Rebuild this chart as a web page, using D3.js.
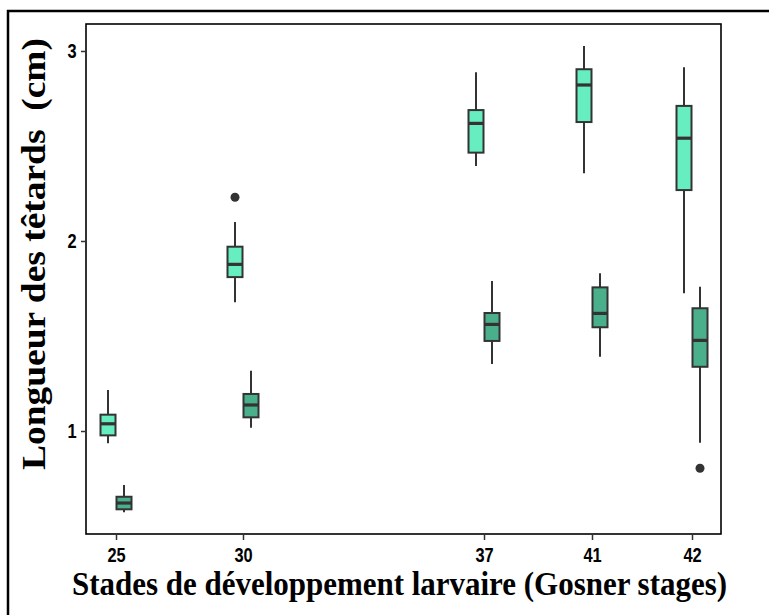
<!DOCTYPE html>
<html>
<head>
<meta charset="utf-8">
<script src="https://cdn.jsdelivr.net/npm/d3@7/dist/d3.min.js"></script>
<style>
  html, body { margin: 0; padding: 0; background: #fff; }
  svg { display: block; }
</style>
</head>
<body>
<svg id="chart" width="769" height="615"></svg>
<script>
// Gosner stages on the x axis
const stages = [25, 30, 37, 41, 42];

// Box statistics per stage: [lower whisker, Q1, median, Q3, upper whisker]
const seriesA = [
  [0.935, 0.977, 1.038, 1.086, 1.216],
  [1.677, 1.810, 1.877, 1.970, 2.100],
  [2.395, 2.465, 2.619, 2.689, 2.888],
  [2.356, 2.626, 2.821, 2.904, 3.026],
  [1.725, 2.268, 2.541, 2.711, 2.914]
];
const seriesB = [
  [0.572, 0.588, 0.621, 0.654, 0.716],
  [1.017, 1.072, 1.137, 1.195, 1.317],
  [1.353, 1.474, 1.561, 1.621, 1.789],
  [1.391, 1.546, 1.619, 1.756, 1.830],
  [0.938, 1.338, 1.477, 1.646, 1.759]
];

// Outlying points per stage
const outliersA = [[], [2.23], [], [], []];
const outliersB = [[], [], [], [], [0.804]];

const yTicks = [1, 2, 3];

const fillA = "#66EEC0";
const fillB = "#4AB08C";
const ink = "#333333";

const svg = d3.select("#chart");

// Outer frame (runs off the right and bottom edges)
svg.append("rect")
  .attr("x", 8).attr("y", 11)
  .attr("width", 800).attr("height", 640)
  .attr("fill", "none").attr("stroke", "#000").attr("stroke-width", 2.5);

const panel = { left: 86, top: 24, right: 721, bottom: 534 };

const x = d3.scaleLinear()
  .domain(stages)
  .range([116, 243, 484, 592, 692]);

const y = d3.scaleLinear()
  .domain([0.458, 3.142])
  .range([panel.bottom, panel.top]);

const dodge = 8;
const boxW = 15;

// Panel border
svg.append("rect")
  .attr("x", panel.left).attr("y", panel.top)
  .attr("width", panel.right - panel.left)
  .attr("height", panel.bottom - panel.top)
  .attr("fill", "none").attr("stroke", "#000").attr("stroke-width", 1.6);

// Axes
const xAxis = d3.axisBottom(x).tickValues(stages).tickSize(6).tickPadding(5).tickFormat(d3.format("d"));
const yAxis = d3.axisLeft(y).tickValues(yTicks).tickSize(5).tickPadding(4).tickFormat(d3.format("d"));

const gx = svg.append("g").attr("transform", `translate(0,${panel.bottom})`).call(xAxis);
const gy = svg.append("g").attr("transform", `translate(${panel.left},0)`).call(yAxis);

[gx, gy].forEach(g => {
  g.select(".domain").remove();
  g.selectAll(".tick line").attr("stroke", ink).attr("stroke-width", 1.5);
  g.selectAll(".tick text")
    .attr("fill", "#000")
    .style("font-family", "'Liberation Sans', Arial, sans-serif")
    .style("font-weight", "bold")
    .style("font-size", "20px");
});
// narrow, tall tick digits
gx.selectAll(".tick text").attr("dy", "0.85em").attr("transform", "scale(0.82,1)");
gy.selectAll(".tick text").attr("x", -11.5).attr("transform", "scale(0.82,1)");

// Boxplots
function drawSeries(stats, outliers, fill, offset) {
  const g = svg.append("g");
  stats.forEach((s, i) => {
    const cx = x(stages[i]) + offset;
    const [lo, q1, med, q3, hi] = s;
    // whiskers
    g.append("line")
      .attr("x1", cx).attr("x2", cx)
      .attr("y1", y(q3)).attr("y2", y(hi))
      .attr("stroke", ink).attr("stroke-width", 2);
    g.append("line")
      .attr("x1", cx).attr("x2", cx)
      .attr("y1", y(q1)).attr("y2", y(lo))
      .attr("stroke", ink).attr("stroke-width", 2);
    // box
    g.append("rect")
      .attr("x", cx - boxW / 2).attr("width", boxW)
      .attr("y", y(q3)).attr("height", y(q1) - y(q3))
      .attr("fill", fill).attr("stroke", ink).attr("stroke-width", 2);
    // median
    g.append("line")
      .attr("x1", cx - boxW / 2).attr("x2", cx + boxW / 2)
      .attr("y1", y(med)).attr("y2", y(med))
      .attr("stroke", ink).attr("stroke-width", 3.2);
    // outliers
    outliers[i].forEach(v => {
      g.append("circle")
        .attr("cx", cx).attr("cy", y(v)).attr("r", 4.5)
        .attr("fill", ink);
    });
  });
}

drawSeries(seriesA, outliersA, fillA, -dodge);
drawSeries(seriesB, outliersB, fillB, dodge);

// Axis titles
const titleFont = "'Liberation Serif', 'Times New Roman', serif";

svg.append("text")
  .attr("x", 399.5).attr("y", 595)
  .attr("text-anchor", "middle")
  .attr("textLength", 655).attr("lengthAdjust", "spacingAndGlyphs")
  .style("font-family", titleFont)
  .style("font-weight", "bold")
  .style("font-size", "33px")
  .text("Stades de développement larvaire (Gosner stages)");

svg.append("text")
  .attr("transform", "translate(45,254) rotate(-90)")
  .attr("text-anchor", "middle")
  .attr("textLength", 432).attr("lengthAdjust", "spacingAndGlyphs")
  .style("font-family", titleFont)
  .style("font-weight", "bold")
  .style("font-size", "33px")
  .style("white-space", "pre")
  .text("Longueur des têtards  (cm)");
</script>
</body>
</html>
